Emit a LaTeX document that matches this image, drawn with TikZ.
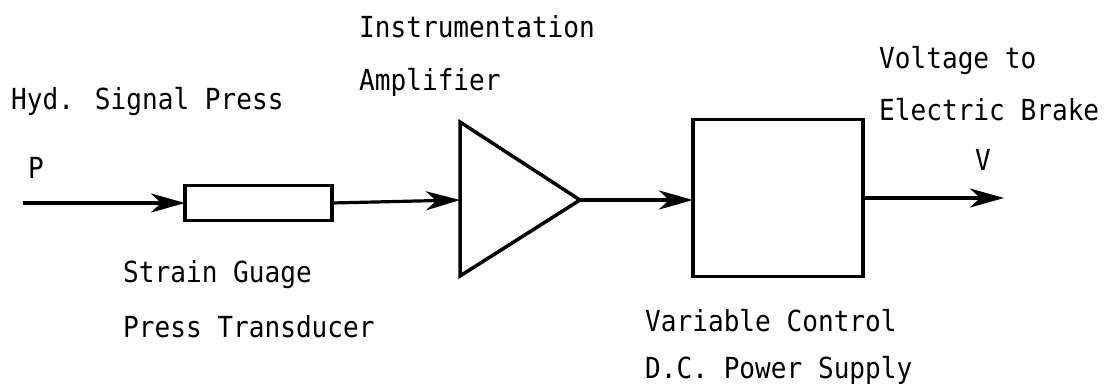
\documentclass[tikz,border=0pt]{standalone}
\usepackage{fontspec}
\usetikzlibrary{arrows.meta}
\newfontfamily\tw[FakeStretch=0.9]{DejaVu Sans Mono}
\begin{document}
\begin{tikzpicture}[x=1pt,y=-1pt,
  lbl/.style={anchor=base west,inner sep=0pt,font=\tw\fontsize{29}{29}\selectfont},
  blk/.style={draw,line width=3.5pt,inner sep=0pt,outer sep=0pt},
  conn/.style={line width=3.2pt,-{Stealth[length=34pt,width=19pt,inset=10pt]}},
  wire/.style={line width=3.2pt}]
\useasboundingbox (0,0) rectangle (1111,386);
% blocks
\node[blk,minimum width=147pt,minimum height=35pt] (sg) at (258.5,203) {};
\coordinate (ampin) at (460,200);
\coordinate (ampout) at (580,200);
\coordinate (amptop) at (460,122);
\coordinate (ampbot) at (460,276);
\draw[line width=3.5pt,line join=miter] (amptop) -- (ampout) -- (ampbot) -- cycle;
\node[blk,minimum width=170pt,minimum height=157pt] (ps) at (778,198) {};
\coordinate (pin) at (23,203);
\coordinate (vout) at (1004,198);
% connectors
\draw[conn] (pin) -- (sg.west);
\draw[conn] (sg.east) -- (ampin);
\draw[conn] (ampout) -- (ampout -| ps.west);
\draw[conn] (ps.east |- vout) -- (vout);
% labels
\node[lbl] (t1) at (11,109) {Hyd. Signal Press};
\node[lbl] (t2) at (28,178) {P};
\node[lbl] (t3) at (359,37) {Instrumentation};
\node[lbl] (t4) at (359,90) {Amplifier};
\node[lbl] (t5) at (879,68) {Voltage to};
\node[lbl] (t6) at (879,120) {Electric Brake};
\node[lbl,anchor=base] (t7) at (983,170) {V};
\node[lbl] (t8) at (123,282) {Strain Guage};
\node[lbl] (t9) at (123,337) {Press Transducer};
\node[lbl] (t10) at (645,331) {Variable Control};
\node[lbl] (t11) at (645,378) {D.C. Power Supply};
\end{tikzpicture}
\end{document}
